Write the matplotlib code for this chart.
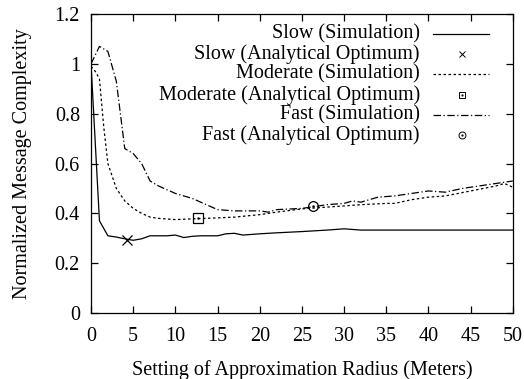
import matplotlib
matplotlib.use("Agg")
import matplotlib.pyplot as plt
from matplotlib.lines import Line2D

plt.rcParams['font.family'] = ['Liberation Serif', 'DejaVu Serif']

slow_x = [0, 1, 2, 3, 4, 5, 6, 7, 8, 9, 10, 11, 12, 13, 14, 15, 16, 17, 18, 20, 22, 25, 28, 30, 32, 35, 40, 45, 50]
slow_y = [1.0, 0.37, 0.31, 0.305, 0.298, 0.292, 0.298, 0.31, 0.31, 0.31, 0.313, 0.303, 0.308, 0.31, 0.31, 0.31, 0.318, 0.32, 0.313, 0.318, 0.322, 0.327, 0.333, 0.338, 0.333, 0.333, 0.333, 0.333, 0.333]

mod_x = [0, 0.5, 1, 1.5, 2, 3, 4, 5, 6, 7, 8, 10, 12, 15, 17, 20, 22, 25, 27, 30, 32, 35, 36, 38, 40, 42, 45, 48, 49, 50]
mod_y = [0.99, 0.97, 0.94, 0.75, 0.6, 0.5, 0.45, 0.42, 0.4, 0.385, 0.38, 0.375, 0.378, 0.382, 0.385, 0.395, 0.405, 0.418, 0.423, 0.43, 0.435, 0.44, 0.44, 0.455, 0.465, 0.47, 0.49, 0.51, 0.52, 0.505]

fast_x = [0, 1, 2, 3, 4, 5, 6, 7, 8, 10, 12, 14, 15, 17, 20, 21, 22, 25, 28, 30, 31, 32, 34, 36, 38, 40, 42, 44, 46, 48, 50]
fast_y = [1.0, 1.07, 1.05, 0.93, 0.66, 0.64, 0.6, 0.53, 0.51, 0.48, 0.46, 0.43, 0.415, 0.41, 0.41, 0.405, 0.415, 0.42, 0.435, 0.44, 0.45, 0.445, 0.465, 0.47, 0.48, 0.49, 0.485, 0.5, 0.51, 0.52, 0.53]

opt_x = [4.3, 12.7, 26.3]
opt_y = [0.295, 0.38, 0.43]

labels = ["Slow (Simulation)", "Slow (Analytical Optimum)",
          "Moderate (Simulation)", "Moderate (Analytical Optimum)",
          "Fast (Simulation)", "Fast (Analytical Optimum)"]

FS = 14.5
fig = plt.figure(figsize=(5.24, 3.79), dpi=100)
ax = fig.add_axes([0.1737, 0.174, 0.805, 0.789])

lw = 0.9
ax.plot(slow_x, slow_y, color='black', lw=lw, ls='-')
ax.plot(mod_x, mod_y, color='black', lw=lw, ls=(0, (2, 2)))
ax.plot(fast_x, fast_y, color='black', lw=lw, ls=(0, (6, 2, 1, 2)))

ax.plot(opt_x[0], opt_y[0], marker='x', color='black', ms=7, mew=0.9, ls='none')
ax.plot(opt_x[1], opt_y[1], marker='s', mfc='none', mec='black', ms=7, mew=0.9, ls='none')
ax.plot(opt_x[1], opt_y[1], marker='.', color='black', ms=1.5, ls='none')
ax.plot(opt_x[2], opt_y[2], marker='o', mfc='none', mec='black', ms=7, mew=0.9, ls='none')
ax.plot(opt_x[2], opt_y[2], marker='.', color='black', ms=1.5, ls='none')

ax.set_xlim(0, 50)
ax.set_ylim(0, 1.2)
ax.set_xticks(range(0, 51, 5))
ax.set_yticks([0, 0.2, 0.4, 0.6, 0.8, 1.0, 1.2])
ax.set_yticklabels(['0', '0.2', '0.4', '0.6', '0.8', '1', '1.2'])
ax.tick_params(direction='in', top=True, right=True, length=5, width=0.9, labelsize=FS)
ax.tick_params(axis='x', pad=10)
ax.tick_params(axis='y', pad=8)
for s in ax.spines.values():
    s.set_linewidth(0.9)

ax.set_xlabel("Setting of Approximation Radius (Meters)", fontsize=FS, labelpad=10)
ax.set_ylabel("Normalized Message Complexity", fontsize=FS, labelpad=16)

# manual gnuplot-style legend: right-aligned text, handle to the right
styles = [dict(ls='-'), dict(marker='x'), dict(ls=(0, (2, 2))), dict(marker='s'),
          dict(ls=(0, (6, 2, 1, 2))), dict(marker='o')]
ys = [34, 54, 74, 95, 115, 135]
W, H = 524, 379
for lab, st, yp in zip(labels, styles, ys):
    fy = 1 - yp / H
    fig.text(420 / W, fy, lab, ha='right', va='center', fontsize=FS)
    if 'marker' in st:
        m = st['marker']
        if m == 'x':
            fig.add_artist(Line2D([462 / W], [fy], marker='x', color='black', ms=5, mew=0.7, ls='none'))
        else:
            fig.add_artist(Line2D([462 / W], [fy], marker=m, mfc='none', mec='black', ms=5, mew=0.7, ls='none'))
            fig.add_artist(Line2D([462 / W], [fy], marker='.', color='black', ms=1.2, ls='none'))
    else:
        fig.add_artist(Line2D([433 / W, 489 / W], [fy, fy], color='black', lw=lw, ls=st['ls']))

fig.savefig("out.png", dpi=100)
